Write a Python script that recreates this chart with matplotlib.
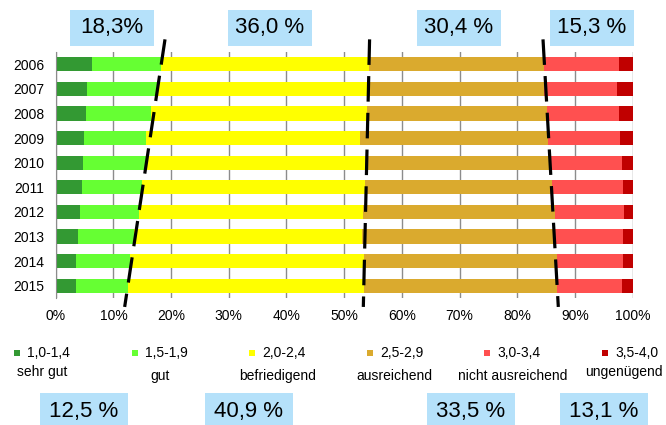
import numpy as np
import matplotlib
matplotlib.use("Agg")
import matplotlib.pyplot as plt
from matplotlib.patches import Rectangle

plt.rcParams['font.family'] = ['Liberation Sans', 'DejaVu Sans']

# Notenverteilung je Jahrgang (Anteile in %)
years = ['2006', '2007', '2008', '2009', '2010', '2011', '2012', '2013', '2014', '2015']
sehr_gut = [6.3, 5.5, 5.2, 4.9, 4.7, 4.6, 4.2, 3.9, 3.5, 3.5]
gut = [12.0, 12.0, 11.3, 10.8, 11.0, 10.4, 10.3, 9.7, 9.3, 9.0]
befriedigend = [36.0, 36.4, 37.5, 37.1, 37.9, 38.6, 38.8, 39.5, 40.6, 40.9]
ausreichend = [30.4, 30.7, 31.1, 32.6, 32.1, 32.5, 33.2, 33.5, 33.5, 33.5]
nicht_ausr = [12.9, 12.7, 12.6, 12.4, 12.4, 12.3, 12.0, 11.8, 11.5, 11.2]
ungenuegend = [2.4, 2.7, 2.3, 2.3, 1.9, 1.6, 1.5, 1.6, 1.6, 1.9]

ranges = ['1,0-1,4', '1,5-1,9', '2,0-2,4', '2,5-2,9', '3,0-3,4', '3,5-4,0']
grades = ['sehr gut', 'gut', 'befriedigend', 'ausreichend', 'nicht ausreichend', 'ungenügend']
colors = ['#339933', '#66ff33', '#ffff00', '#daaa2e', '#ff5050', '#c00000']

# Gruppensummen (1+2, 3, 4, 5+6) fuer erstes und letztes Jahr
top_labels = ['18,3%', '36,0 %', '30,4 %', '15,3 %']
bottom_labels = ['12,5 %', '40,9 %', '33,5 %', '13,1 %']

W, H = 666, 425
fig = plt.figure(figsize=(W / 100, H / 100), dpi=100)
ax = fig.add_axes([55.7 / W, 1 - 298.3 / H, 577 / W, 246.6 / H])

series = np.array([sehr_gut, gut, befriedigend, ausreichend, nicht_ausr, ungenuegend])
y = np.arange(len(years))
left = np.zeros(len(years))
for vals, c in zip(series, colors):
    ax.barh(y, vals, left=left, height=0.58, color=c, linewidth=0)
    left += vals

ax.set_xlim(0, 100)
ax.set_ylim(9.5, -0.5)
ax.set_yticks(y)
ax.set_yticklabels(years)
ax.set_xticks(np.arange(0, 101, 10))
ax.set_xticklabels([f'{v}%' for v in range(0, 101, 10)])
ax.tick_params(length=0, labelsize=10, colors='black')
ax.tick_params(axis='x', pad=8)
ax.tick_params(axis='y', pad=8)
ax.set_axisbelow(True)
ax.xaxis.grid(True, color='#8c8c8c', lw=1)
for s in ['top', 'right', 'bottom']:
    ax.spines[s].set_visible(False)
ax.spines['left'].set_color('#8c8c8c')

# gestrichelte Trennlinien zwischen erstem und letztem Jahr
cum = np.cumsum(series, axis=0)
for k in [1, 2, 3]:
    x0, x1 = cum[k, 0], cum[k, -1]
    slope = (x1 - x0) / (len(years) - 1)
    ya, yb = -1.0, len(years) - 1 + 0.85
    ax.plot([x0 + slope * ya, x0 + slope * yb], [ya, yb], color='black',
            lw=2.3, linestyle=(0, (8, 3.5)), clip_on=False, zorder=5)

box_color = '#b5e1fa'

def box(x0, x1, y0, y1, text):
    fig.add_artist(Rectangle((x0 / W, 1 - y1 / H), (x1 - x0) / W, (y1 - y0) / H,
                             transform=fig.transFigure, color=box_color, lw=0))
    fig.text((x0 + x1) / 2 / W, 1 - (y0 + y1) / 2 / H, text, fontsize=16,
             ha='center', va='center')

for x0, t in zip([70, 228, 417, 550], top_labels):
    box(x0, x0 + 84, 10, 46, t)
for x0, t in zip([40, 205, 427, 560], bottom_labels):
    box(x0, x0 + 88, 393, 430, t)

# Legende
for i, (r, g, c) in enumerate(zip(ranges, grades, colors)):
    mx = 17 + 117.6 * i
    fig.add_artist(Rectangle(((mx - 3) / W, 1 - 356 / H), 6 / W, 6 / H,
                             transform=fig.transFigure, color=c, lw=0))
    fig.text((mx + 10) / W, 1 - 353 / H, r, fontsize=10, ha='left', va='center')
    gx = min(mx + 25, W - 42)
    gy = 372 if i in (0, len(grades) - 1) else 376
    fig.text(gx / W, 1 - gy / H, g, fontsize=10, ha='center', va='center')

fig.savefig('out.png', dpi=100)
